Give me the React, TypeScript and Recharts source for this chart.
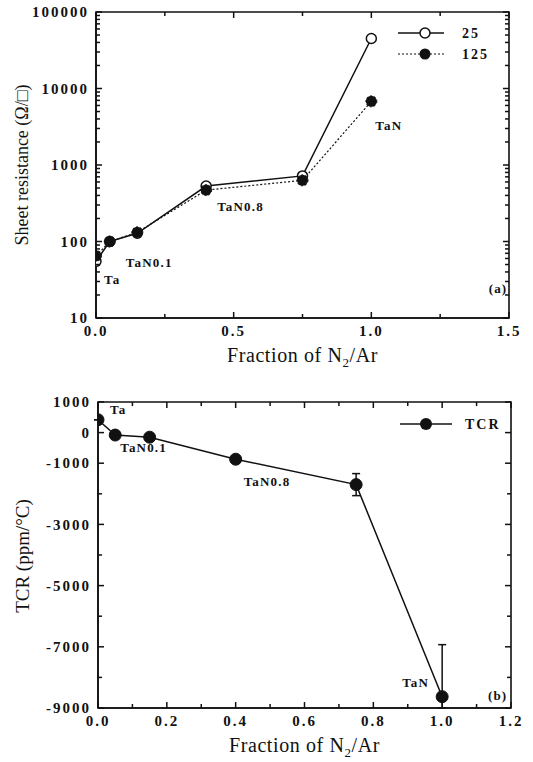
import React from 'react';
import { LineChart, Line, XAxis, YAxis, Legend, ErrorBar, LabelList, ReferenceArea } from 'recharts';

// N2/Ar fraction in the sputter gas
const fraction = [0, 0.05, 0.15, 0.4, 0.75, 1.0];
// sheet resistance (ohm/sq) measured at 25 and 125 C
const sheet25 = [55, 100, 128, 530, 720, 45000];
const sheet125 = [65, 100, 132, 470, 630, 6800];
// TCR (ppm/C) and its error bar [down, up]; the lower part of the last bar runs to the axis
const tcr = [420, -80, -150, -870, -1700, -8630];
const tcrErr: [number, number][] = [[0, 0], [0, 0], [0, 0], [0, 0], [360, 360], [370, 1700]];
const phaseLabels = ['Ta', 'TaN0.1', '', 'TaN0.8', '', 'TaN'];

const xTicksA = [0, 0.5, 1.0, 1.5];
const xMinorA = [0, 0.25, 0.5, 0.75, 1.0, 1.25, 1.5];
const yTicksA = [10, 100, 1000, 10000, 100000];
const yMinorA = [
  10, 20, 30, 40, 50, 60, 70, 80, 90,
  100, 200, 300, 400, 500, 600, 700, 800, 900,
  1000, 2000, 3000, 4000, 5000, 6000, 7000, 8000, 9000,
  10000, 20000, 30000, 40000, 50000, 60000, 70000, 80000, 90000, 100000,
];
const xTicksB = [0, 0.2, 0.4, 0.6, 0.8, 1.0, 1.2];
const xMinorB = [0, 0.1, 0.2, 0.3, 0.4, 0.5, 0.6, 0.7, 0.8, 0.9, 1.0, 1.1, 1.2];
const yTicksB = [1000, 0, -1000, -3000, -5000, -7000, -9000];
const yMinorB = [1000, 0, -1000, -2000, -3000, -4000, -5000, -6000, -7000, -8000, -9000];

const dataA = fraction.map((f, i) => ({ f, r25: sheet25[i], r125: sheet125[i], label: phaseLabels[i] }));
const dataB = fraction.map((f, i) => ({ f, tcr: tcr[i], err: tcrErr[i], label: phaseLabels[i] }));

const serif = '"Liberation Serif", "DejaVu Serif", serif';
const tickFont = { fontSize: 15, fontWeight: 700, fontFamily: serif, letterSpacing: 2 };
const ink = '#111';
const PLOT_W = 413;
const PLOT_H = 306;
const GAP = 7;

// bottom x tick: label (major only) + inward marks at bottom and top of the frame
const XTick = ({ x, y, payload, labeled, fmt }: any) => {
  const ay = y - GAP;
  const major = labeled.includes(payload.value);
  const len = major ? 6 : 4;
  return (
    <g>
      <line x1={x} y1={ay} x2={x} y2={ay - len} stroke={ink} strokeWidth={1.5} />
      <line x1={x} y1={ay - PLOT_H} x2={x} y2={ay - PLOT_H + len} stroke={ink} strokeWidth={1.5} />
      {major ? (
        <text x={x} y={y} dy="0.75em" textAnchor="middle" fill={ink} style={tickFont}>{fmt(payload.value)}</text>
      ) : null}
    </g>
  );
};

// left y tick: label (major only) + inward marks at left and right of the frame
const YTick = ({ x, y, payload, labeled, width }: any) => {
  const ax = x + GAP;
  const major = labeled.includes(payload.value);
  const len = major ? 6 : 4;
  return (
    <g>
      <line x1={ax} y1={y} x2={ax + len} y2={y} stroke={ink} strokeWidth={1.5} />
      <line x1={ax + width} y1={y} x2={ax + width - len} y2={y} stroke={ink} strokeWidth={1.5} />
      {major ? (
        <text x={x} y={y} dy="0.35em" textAnchor="end" fill={ink} style={tickFont}>{payload.value}</text>
      ) : null}
    </g>
  );
};

// label offsets per point index (dx, dy, anchor)
const offsA: Record<number, [number, number, string]> = { 0: [8, 24, 'start'], 1: [16, 21, 'start'], 3: [11, 16, 'start'], 5: [4, 24, 'start'] };
const offsB: Record<number, [number, number, string]> = { 0: [12, -10, 'start'], 1: [5, 12, 'start'], 3: [8, 22, 'start'], 5: [-13, -14, 'end'] };

const pointLabel = (offs: Record<number, [number, number, string]>) => (p: any) => {
  const o = offs[p.index];
  if (!o || !p.value) return null;
  return (
    <text x={p.x + o[0]} y={p.y + o[1]} textAnchor={o[2] as any} dominantBaseline="central"
      style={{ fontSize: 13, fontWeight: 700, fontFamily: serif, letterSpacing: 1.2 }} fill={ink}>
      {p.value}
    </text>
  );
};

const XTitle = ({ viewBox, dy }: any) => (
  <text x={viewBox.x + viewBox.width / 2} y={viewBox.y + dy} textAnchor="middle"
    style={{ fontSize: 20, fontFamily: serif, letterSpacing: 0.6 }} fill={ink}>
    Fraction of N<tspan fontSize={13} dy={5}>2</tspan><tspan dy={-5}>/Ar</tspan>
  </text>
);

const YTitle = ({ text, cx, cy, size }: any) => (
  <text x={cx} y={cy} transform={`rotate(-90 ${cx} ${cy})`} textAnchor="middle"
    dominantBaseline="central" style={{ fontSize: size, fontFamily: serif }} fill={ink}>
    {text}
  </text>
);

const legendText = { fontSize: 14, fontWeight: 700, fontFamily: serif, letterSpacing: 2 };

const LegendA = () => (
  <svg width={110} height={44}>
    <line x1={0} y1={10} x2={46} y2={10} stroke={ink} strokeWidth={1.4} />
    <circle cx={27} cy={10} r={5} fill="#fff" stroke={ink} strokeWidth={1.5} />
    <text x={64} y={10} dominantBaseline="central" fill={ink} style={legendText}>25</text>
    <line x1={0} y1={31} x2={46} y2={31} stroke={ink} strokeWidth={1.2} strokeDasharray="2 2" />
    <circle cx={27} cy={31} r={5.5} fill={ink} />
    <text x={64} y={31} dominantBaseline="central" fill={ink} style={legendText}>125</text>
  </svg>
);

const LegendB = () => (
  <svg width={110} height={24}>
    <line x1={0} y1={12} x2={52} y2={12} stroke={ink} strokeWidth={1.4} />
    <circle cx={26} cy={12} r={6} fill={ink} />
    <text x={65} y={12} dominantBaseline="central" fill={ink} style={legendText}>TCR</text>
  </svg>
);

const axisLine = { stroke: ink, strokeWidth: 1.6 };
const fmt1 = (v: number) => v.toFixed(1);

export default function App() {
  return (
    <div style={{ position: 'relative', width: 533, height: 762, background: '#fff', fontFamily: serif }}>
      <style>{'body{margin:0}'}</style>

      <div style={{ position: 'absolute', left: 0, top: 0 }}>
        <LineChart width={533} height={380} data={dataA} margin={{ top: 12, right: 24, bottom: 22, left: 0 }}>
          <XAxis xAxisId="x" dataKey="f" type="number" domain={[0, 1.5]} ticks={xMinorA} interval={0} allowDataOverflow
            tick={<XTick labeled={xTicksA} fmt={fmt1} />} tickLine={false} tickSize={0} tickMargin={GAP} height={40}
            axisLine={axisLine} label={<XTitle dy={44} />} />
          <YAxis yAxisId="y" scale="log" type="number" domain={[10, 100000]} ticks={yMinorA} interval={0} allowDataOverflow
            tick={<YTick labeled={yTicksA} width={PLOT_W} />} tickLine={false} tickSize={0} tickMargin={GAP} width={96}
            axisLine={axisLine} label={<YTitle text="Sheet resistance (Ω/□)" cx={22} cy={165} size={18} />} />
          <ReferenceArea xAxisId="x" yAxisId="y" x1={0} x2={1.5} y1={10} y2={100000} fill="none"
            stroke={ink} strokeWidth={1.6} ifOverflow="visible" />
          <Legend layout="horizontal" verticalAlign="middle" align="center" content={<LegendA />}
            wrapperStyle={{ position: 'absolute', left: 398, top: 23, width: 110, height: 44 }} />
          <Line xAxisId="x" yAxisId="y" dataKey="r25" isAnimationActive={false} stroke={ink} strokeWidth={1.5}
            dot={{ r: 5, fill: '#fff', stroke: ink, strokeWidth: 1.5 }} legendType="none" />
          <Line xAxisId="x" yAxisId="y" dataKey="r125" isAnimationActive={false} stroke={ink} strokeWidth={1.2}
            strokeDasharray="2 2" dot={{ r: 5.5, fill: ink, stroke: ink, strokeWidth: 1 }}>
            <LabelList dataKey="label" content={pointLabel(offsA)} />
          </Line>
          <text x={507} y={288} textAnchor="end" dominantBaseline="central"
            style={{ fontSize: 13, fontWeight: 700, fontFamily: serif, letterSpacing: 1 }} fill={ink}>(a)</text>
        </LineChart>
      </div>

      <div style={{ position: 'absolute', left: 0, top: 380 }}>
        <LineChart width={533} height={382} data={dataB} margin={{ top: 22, right: 22, bottom: 14, left: 0 }}>
          <XAxis xAxisId="x" dataKey="f" type="number" domain={[0, 1.2]} ticks={xMinorB} interval={0} allowDataOverflow
            tick={<XTick labeled={xTicksB} fmt={fmt1} />} tickLine={false} tickSize={0} tickMargin={GAP} height={40}
            axisLine={axisLine} label={<XTitle dy={44} />} />
          <YAxis yAxisId="y" type="number" domain={[-9000, 1000]} ticks={yMinorB} interval={0} allowDataOverflow
            tick={<YTick labeled={yTicksB} width={PLOT_W} />} tickLine={false} tickSize={0} tickMargin={GAP} width={98}
            axisLine={axisLine} label={<YTitle text="TCR (ppm/°C)" cx={22} cy={176} size={19} />} />
          <ReferenceArea xAxisId="x" yAxisId="y" x1={0} x2={1.2} y1={-9000} y2={1000} fill="none"
            stroke={ink} strokeWidth={1.6} ifOverflow="visible" />
          <Legend layout="horizontal" verticalAlign="middle" align="center" content={<LegendB />}
            wrapperStyle={{ position: 'absolute', left: 400, top: 32, width: 110, height: 24 }} />
          <Line xAxisId="x" yAxisId="y" dataKey="tcr" isAnimationActive={false} stroke={ink} strokeWidth={1.5}
            dot={{ r: 6, fill: ink, stroke: ink, strokeWidth: 1 }}>
            <ErrorBar dataKey="err" direction="y" width={4} stroke={ink} strokeWidth={1.5} />
            <LabelList dataKey="label" content={pointLabel(offsB)} />
          </Line>
          <text x={507} y={315} textAnchor="end" dominantBaseline="central"
            style={{ fontSize: 13, fontWeight: 700, fontFamily: serif, letterSpacing: 1 }} fill={ink}>(b)</text>
        </LineChart>
      </div>
    </div>
  );
}
